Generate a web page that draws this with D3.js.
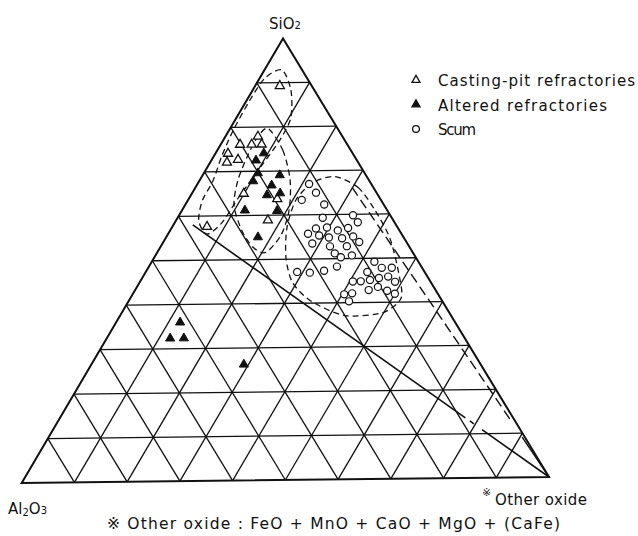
<!DOCTYPE html>
<html>
<head>
<meta charset="utf-8">
<script src="https://cdn.jsdelivr.net/npm/d3@7"></script>
<style>
body { margin: 0; background: white; }
svg { display: block; }
text { font-family: "DejaVu Sans", "Noto Sans CJK JP", sans-serif; fill: #111; }
</style>
</head>
<body>
<script>
// every value is [SiO2 %, Other oxide %]; Al2O3 is what is left to 100
var castingPit = [[89.5,4.6],[78.1,6.1],[76.3,3.6],[76.3,5.8],[76.3,7.7],[74.3,2.3],
    [72.3,3.1],[72.9,4.9],[65.2,9.8],[63.9,16.8],[59.1,17.4],[57.8,6.5]]
var altered = [[74.3,9.1],[72.7,8.4],[69.8,10.2],[69.3,14.6],[68.0,10.2],[67.0,14.2],
    [64.8,14.4],[65.2,16.7],[61.4,11.9],[61.2,18.1],[55.3,17.4],[36.2,12.1],
    [32.6,12.0],[32.6,14.6],[26.5,29.0]]
var scum = [[67.0,21.3],[65.0,23.6],[63.4,21.7],[62.3,26.5],[59.3,27.7],[59.8,33.2],
    [58.2,34.9],[56.9,27.6],[57.1,29.6],[56.4,32.0],[56.9,33.7],[55.7,26.7],
    [55.3,29.0],[54.8,31.1],[54.6,33.7],[55.0,35.6],[53.5,28.6],[52.8,32.3],
    [52.8,35.5],[53.7,37.4],[51.2,34.0],[50.3,35.6],[50.7,37.5],[48.2,35.9],
    [47.1,28.9],[46.9,31.4],[47.3,33.9],[49.2,42.5],[46.9,42.3],[47.8,44.6],
    [47.8,46.5],[44.8,40.6],[44.8,42.1],[45.1,43.7],[45.5,45.2],[45.8,46.8],
    [44.6,48.7],[42.8,44.6],[43.5,46.0],[42.6,48.2],[41.9,50.0],[41.9,40.4],
    [42.1,41.8],[40.3,42.1]]

// dashed zones drawn round each group
var zoneCasting = [[92.9,3.3],[88.3,7.3],[82.0,10.4],[77.0,10.8],[71.3,10.2],[64.6,9.4],
    [58.4,9.0],[55.9,7.4],[58.9,4.4],[63.4,2.8],[68.0,2.6],[73.6,1.5],[79.3,0.8],
    [86.1,0.6],[91.1,1.0]]
var zoneAltered = [[79.7,7.2],[74.7,12.5],[68.0,17.2],[61.2,20.4],[55.5,21.7],[51.6,20.7],
    [52.8,17.7],[56.6,13.7],[62.3,9.4],[68.0,7.3],[73.6,6.4],[77.5,6.2]]
var zoneScum = [[68.6,25.4],[66.1,31.0],[61.2,36.5],[54.4,42.9],[46.0,48.8],[40.8,51.7],
    [37.6,49.7],[37.1,42.9],[40.3,35.1],[44.6,29.3],[50.3,25.2],[57.1,22.0],
    [63.4,20.6],[67.3,21.9]]

// the two straight lines that run to the Other oxide corner
var solidLine = [[[58.0,3.7],[13.6,77.4]], [[12.9,78.6],[12.2,79.7]], [[10.9,81.9],[0,100]]]
var dashedLine = [[66.1,29.9],[12.5,86.8]]
var dashedLineEnd = [[9.1,90.4],[0,100]]

var gridSteps = [10,20,30,40,50,60,70,80,90]
var legendNames = ["Casting-pit refractories", "Altered refractories", "Scum"]

var width = 638, height = 536
var top_ = [283, 38.5], left = [21.7, 483], right = [549, 477]
var pct = d3.scaleLinear().domain([0, 100]).range([0, 1])

function project(d) {
    var s = pct(d[0]), o = pct(d[1]), a = 1 - s - o
    return [s * top_[0] + a * left[0] + o * right[0],
            s * top_[1] + a * left[1] + o * right[1]]
}

var svg = d3.select("body").append("svg")
    .attr("width", width)
    .attr("height", height)
    .style("background", "white")

var line = d3.line().x(function(d){ return project(d)[0] }).y(function(d){ return project(d)[1] })
var zone = d3.line().x(function(d){ return project(d)[0] }).y(function(d){ return project(d)[1] })
    .curve(d3.curveCardinalClosed.tension(0.2))

// grid: constant SiO2, constant Other oxide, constant Al2O3
var grid = svg.append("g").attr("stroke", "#111").attr("stroke-width", 1.3).attr("fill", "none")
gridSteps.forEach(function(k){
    grid.append("path").attr("d", line([[k, 0], [k, 100 - k]]))
    grid.append("path").attr("d", line([[0, k], [100 - k, k]]))
    grid.append("path").attr("d", line([[100 - k, 0], [0, 100 - k]]))
})
svg.append("path")
    .attr("d", line([[100, 0], [0, 0], [0, 100]]) + "Z")
    .attr("fill", "none").attr("stroke", "#111").attr("stroke-width", 2)
    .attr("stroke-linejoin", "miter")

// zones
var zones = svg.append("g").attr("fill", "none").attr("stroke", "#111")
    .attr("stroke-width", 1.3).attr("stroke-dasharray", "6,4")
;[zoneCasting, zoneAltered, zoneScum].forEach(function(z){
    zones.append("path").attr("d", zone(z))
})

// straight lines
solidLine.forEach(function(seg){
    svg.append("path").attr("d", line(seg)).attr("stroke", "#111")
        .attr("stroke-width", 1.6).attr("fill", "none")
})
svg.append("path").attr("d", line(dashedLine)).attr("stroke", "#111")
    .attr("stroke-width", 1.4).attr("stroke-dasharray", "10,5").attr("fill", "none")
svg.append("path").attr("d", line(dashedLineEnd)).attr("stroke", "#111")
    .attr("stroke-width", 1.4).attr("fill", "none")

// points
var tri = d3.symbol().type(d3.symbolTriangle).size(36)
svg.append("g").selectAll("path")
    .data(castingPit).enter().append("path")
    .attr("d", tri)
    .attr("transform", function(d){ var p = project(d); return "translate(" + p[0] + "," + (p[1] + 1) + ")" })
    .attr("fill", "white").attr("stroke", "#111").attr("stroke-width", 1.3)
svg.append("g").selectAll("path")
    .data(altered).enter().append("path")
    .attr("d", tri)
    .attr("transform", function(d){ var p = project(d); return "translate(" + p[0] + "," + (p[1] + 1) + ")" })
    .attr("fill", "#111").attr("stroke", "#111").attr("stroke-width", 1)
svg.append("g").selectAll("circle")
    .data(scum).enter().append("circle")
    .attr("cx", function(d){ return project(d)[0] })
    .attr("cy", function(d){ return project(d)[1] })
    .attr("r", 3.6)
    .attr("fill", "white").attr("stroke", "#111").attr("stroke-width", 1.2)

// corner labels
var siLabel = svg.append("text").attr("x", 285).attr("y", 29)
    .attr("text-anchor", "middle").style("font-size", "15px")
siLabel.append("tspan").text("SiO")
siLabel.append("tspan").text("2").style("font-size", "10px")

var alLabel = svg.append("text").attr("x", 8).attr("y", 514).style("font-size", "15px")
alLabel.append("tspan").text("Al")
alLabel.append("tspan").text("2").style("font-size", "10px").attr("dy", 2)
alLabel.append("tspan").text("O").attr("dy", -2)
alLabel.append("tspan").text("3").style("font-size", "10px")

svg.append("text").attr("x", 482).attr("y", 496).style("font-size", "11px").text("※")
svg.append("text").attr("x", 495).attr("y", 505).style("font-size", "15px")
    .attr("textLength", 92).attr("lengthAdjust", "spacing").text("Other oxide")

svg.append("text").attr("x", 107).attr("y", 529).style("font-size", "15.5px")
    .attr("textLength", 453).attr("lengthAdjust", "spacing")
    .text("※ Other oxide : FeO + MnO + CaO + MgO + (CaFe)")

// legend
var legend = svg.selectAll(".legend")
    .data(legendNames).enter().append("g")
    .attr("class", "legend")
    .attr("transform", function(d, i){ return "translate(416," + (80 + i * 24.5) + ")" })
legend.append("path")
    .attr("d", function(d, i){ return i < 2 ? d3.symbol().type(d3.symbolTriangle).size(28)() : d3.symbol().type(d3.symbolCircle).size(36)() })
    .attr("fill", function(d, i){ return i == 1 ? "#111" : "white" })
    .attr("stroke", "#111").attr("stroke-width", 1.3)
legend.append("text")
    .attr("x", 22).attr("y", 6)
    .style("font-size", "15px")
    .attr("textLength", function(d, i){ return [197, 169, 38][i] })
    .attr("lengthAdjust", "spacing")
    .text(function(d){ return d })
</script>
</body>
</html>
